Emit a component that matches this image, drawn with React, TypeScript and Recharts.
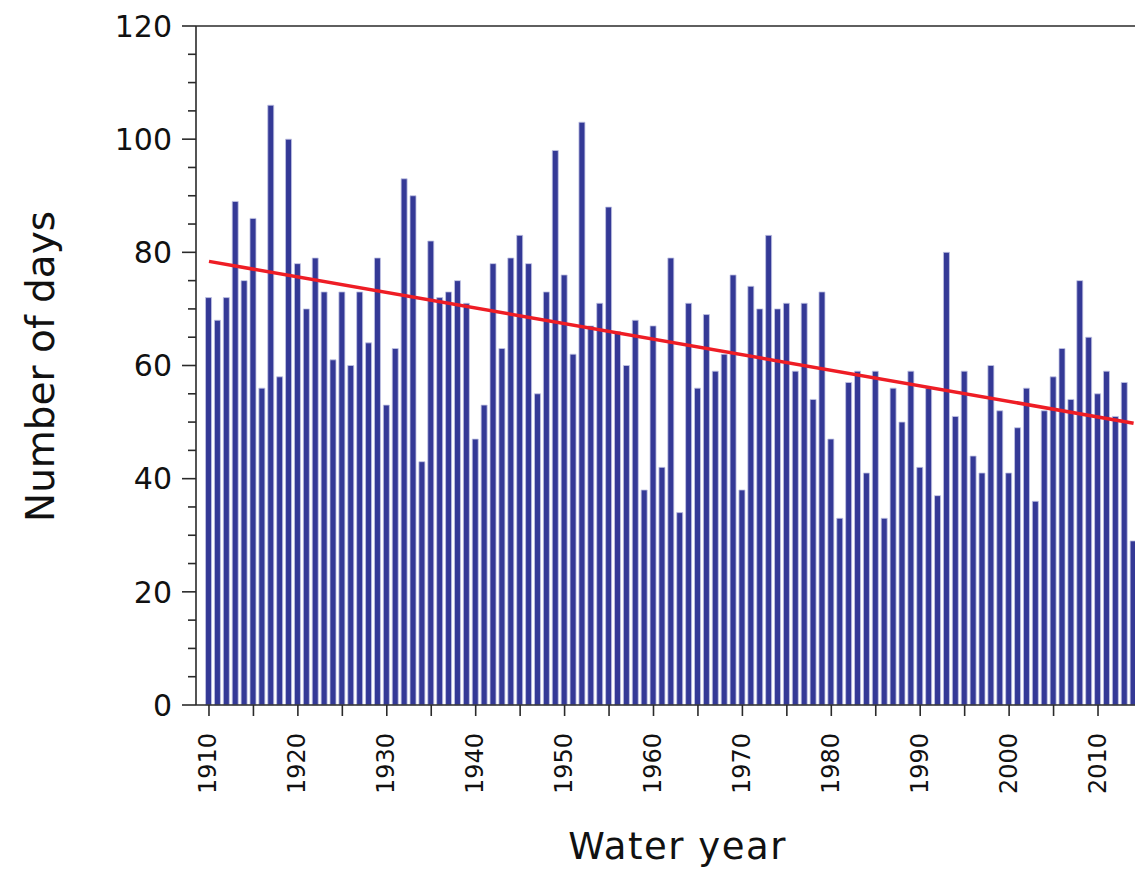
import React from 'react';
import { ComposedChart, Bar, Line, XAxis, YAxis, ReferenceLine, Label } from 'recharts';

// days per water year, starting 1910
const firstYear = 1910;
const days = [
  72, 68, 72, 89, 75, 86, 56, 106, 58, 100,
  78, 70, 79, 73, 61, 73, 60, 73, 64, 79,
  53, 63, 93, 90, 43, 82, 72, 73, 75, 71,
  47, 53, 78, 63, 79, 83, 78, 55, 73, 98,
  76, 62, 103, 67, 71, 88, 66, 60, 68, 38,
  67, 42, 79, 34, 71, 56, 69, 59, 62, 76,
  38, 74, 70, 83, 70, 71, 59, 71, 54, 73,
  47, 33, 57, 59, 41, 59, 33, 56, 50, 59,
  42, 56, 37, 80, 51, 59, 44, 41, 60, 52,
  41, 49, 56, 36, 52, 58, 63, 54, 75, 65,
  55, 59, 51, 57, 29,
];

// linear trend end points
const trendYears = [1910, 2014];
const trendValues = [78.4, 49.8];

const xTicks = [1910, 1915, 1920, 1925, 1930, 1935, 1940, 1945, 1950, 1955, 1960, 1965, 1970, 1975, 1980, 1985, 1990, 1995, 2000, 2005, 2010];
const yTicks = [0, 5, 10, 15, 20, 25, 30, 35, 40, 45, 50, 55, 60, 65, 70, 75, 80, 85, 90, 95, 100, 105, 110, 115, 120];

const data = days.map((d, i) => {
  const year = firstYear + i;
  const t = trendYears.indexOf(year);
  return { year, days: d, trend: t >= 0 ? trendValues[t] : null };
});

const FONT = '"DejaVu Sans", sans-serif';
const AXIS = '#2a2a2a';
const Y_MAJOR = 14;
const Y_MINOR = 8;
const Y_GAP = 10;

function YTick(props: any) {
  const { x, y, payload } = props;
  const axisX = x + Y_MAJOR + Y_GAP;
  const major = payload.value % 20 === 0;
  const len = major ? Y_MAJOR : Y_MINOR;
  return (
    <g>
      <line x1={axisX - len} x2={axisX} y1={y} y2={y} stroke={AXIS} strokeWidth={1.6} />
      {major && (
        <text x={x} y={y} dy="0.36em" textAnchor="end" fontFamily={FONT} fontSize={30} fill="#111">
          {payload.value}
        </text>
      )}
    </g>
  );
}

function XTick(props: any) {
  const { x, y, payload } = props;
  if (payload.value % 10 !== 0) return <g />;
  const bx = x + 7.5;
  return (
    <text x={bx} y={y} textAnchor="end" transform={`rotate(-90 ${bx} ${y})`} fontFamily={FONT} fontSize={24} fill="#111">
      {payload.value}
    </text>
  );
}

export default function App() {
  return (
    <div style={{ position: 'absolute', left: 0, top: 0, background: '#fff' }}>
      <ComposedChart width={1135} height={879} data={data} margin={{ top: 26, right: 0, left: 0, bottom: 0 }}>
        <XAxis
          dataKey="year"
          type="number"
          domain={[1908.54, 2014.16]}
          ticks={xTicks}
          tick={<XTick />}
          tickSize={11}
          tickMargin={17}
          stroke={AXIS}
          strokeWidth={1.6}
          height={174}
          interval={0}
        >
          <Label
            content={(p: any) => {
              const vb = p.viewBox;
              return (
                <text x={vb.x + vb.width / 2 + 12} y={859} textAnchor="middle" fontFamily={FONT} fontSize={37} letterSpacing={1.5} fill="#111">
                  Water year
                </text>
              );
            }}
          />
        </XAxis>
        <YAxis
          type="number"
          domain={[0, 120]}
          ticks={yTicks}
          tick={<YTick />}
          tickLine={false}
          tickSize={Y_MAJOR}
          tickMargin={Y_GAP}
          stroke={AXIS}
          strokeWidth={1.6}
          width={196}
          interval={0}
        >
          <Label
            content={(p: any) => {
              const vb = p.viewBox;
              const cy = vb.y + vb.height / 2 + 1;
              return (
                <text x={54} y={cy} textAnchor="middle" transform={`rotate(-90 54 ${cy})`} fontFamily={FONT} fontSize={39} fill="#111">
                  Number of days
                </text>
              );
            }}
          />
        </YAxis>
        <ReferenceLine y={120} stroke={AXIS} strokeWidth={1.6} />
        <Bar dataKey="days" fill="#343996" stroke="#c3c5e4" strokeWidth={0.8} barSize={6} isAnimationActive={false} />
        <Line
          dataKey="trend"
          type="linear"
          stroke="#ee1d25"
          strokeWidth={3.5}
          dot={false}
          connectNulls
          isAnimationActive={false}
        />
      </ComposedChart>
    </div>
  );
}
